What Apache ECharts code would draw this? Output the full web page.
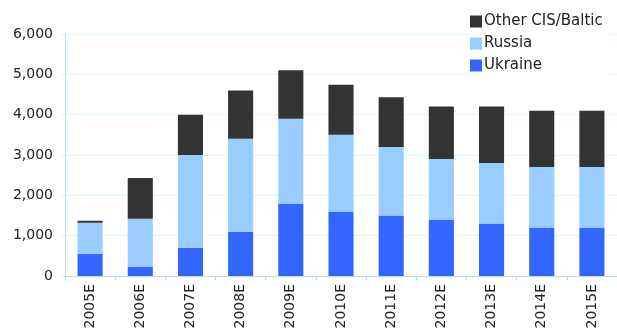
<!DOCTYPE html>
<html><head><meta charset="utf-8">
<script src="https://cdn.jsdelivr.net/npm/echarts@6/dist/echarts.min.js"></script>
<style>html,body{margin:0;padding:0;background:#fff}#c{width:617px;height:333px}</style>
</head><body><div id="c"></div>
<script>
var categories = ['2005E','2006E','2007E','2008E','2009E','2010E','2011E','2012E','2013E','2014E','2015E'];
var ukraine = [550, 230, 700, 1100, 1800, 1600, 1500, 1400, 1300, 1200, 1200];
var russia = [770, 1190, 2300, 2300, 2100, 1900, 1700, 1500, 1500, 1500, 1500];
var other = [50, 1010, 1000, 1200, 1200, 1240, 1230, 1300, 1400, 1400, 1400];
var yTicks = [0, 1000, 2000, 3000, 4000, 5000, 6000];

var font = 'DejaVu Sans';
var chart = echarts.init(document.getElementById('c'), null, {renderer: 'canvas'});
chart.setOption({
  animation: false,
  backgroundColor: '#ffffff',
  grid: {left: 65, right: -1, top: 34, bottom: 57, containLabel: false},
  legend: {
    orient: 'vertical', left: 469, top: 12, itemWidth: 12, itemHeight: 12, itemGap: 7,
    backgroundColor: '#ffffff', padding: [2, 4, 2, 1],
    textStyle: {fontFamily: font, fontSize: 15, color: '#222', padding: [0, 0, 0, -3]},
    data: ['Other CIS/Baltic', 'Russia', 'Ukraine'],
    icon: 'rect'
  },
  xAxis: {
    type: 'category', data: categories,
    axisLine: {lineStyle: {color: '#b8dcff', width: 1}},
    axisTick: {show: true, length: 4, lineStyle: {color: '#b8dcff'}},
    axisLabel: {rotate: 90, fontFamily: font, fontSize: 14, color: '#222', margin: 8}
  },
  yAxis: {
    type: 'value', min: yTicks[0], max: yTicks[yTicks.length - 1], interval: 1000,
    axisLine: {show: true, lineStyle: {color: '#b8dcff', width: 1}},
    axisTick: {show: true, length: 3, lineStyle: {color: '#ccf5ff'}},
    splitLine: {lineStyle: {color: '#d9fbff', width: 1}},
    axisLabel: {fontFamily: font, fontSize: 14, color: '#222', margin: 12,
      formatter: function (v) { return v.toLocaleString('en-US'); }}
  },
  series: [
    {name: 'Ukraine', type: 'bar', stack: 's', data: ukraine, barWidth: '50%', itemStyle: {color: '#3366ff'}},
    {name: 'Russia', type: 'bar', stack: 's', data: russia, itemStyle: {color: '#99ccff'}},
    {name: 'Other CIS/Baltic', type: 'bar', stack: 's', data: other, itemStyle: {color: '#333333'}}
  ]
});
</script></body></html>
